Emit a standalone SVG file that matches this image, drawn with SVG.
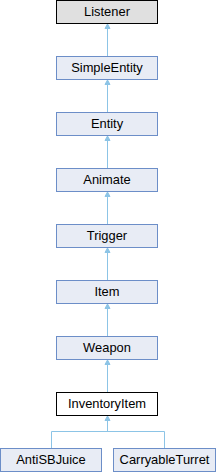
<svg xmlns="http://www.w3.org/2000/svg" width="216" height="472" viewBox="0 0 216 472">
<style>
.n rect{fill:#e8ecf5;stroke:#6c8ec8;stroke-width:1}
.root rect{fill:#e0e0e0;stroke:#000}
.cur rect{fill:#fff;stroke:#000}
text{font-family:"Liberation Sans",Arial,sans-serif;font-size:12.9px;fill:#000;text-anchor:middle}
.e path{fill:none;stroke:#8cc4e6;stroke-width:1}
.e polygon{fill:#8cc4e6;stroke:#8cc4e6;stroke-width:1}
</style>
<rect width="216" height="472" fill="#fff"/>
<g class="e" id="edges">
<path d="M107.5,28V56"/><polygon points="107.5,24 105,28.5 110,28.5"/>
<path d="M107.5,84V112"/><polygon points="107.5,80 105,84.5 110,84.5"/>
<path d="M107.5,140V168"/><polygon points="107.5,136 105,140.5 110,140.5"/>
<path d="M107.5,196V224"/><polygon points="107.5,192 105,196.5 110,196.5"/>
<path d="M107.5,252V280"/><polygon points="107.5,248 105,252.5 110,252.5"/>
<path d="M107.5,308V336"/><polygon points="107.5,304 105,308.5 110,308.5"/>
<path d="M107.5,364V392"/><polygon points="107.5,360 105,364.5 110,364.5"/>
<path d="M107.5,420V432M51.5,448V431.5H164.5V448"/><polygon points="107.5,416 105,420.5 110,420.5"/>
</g>
<g class="n root" id="Listener"><rect x="56.5" y="0.5" width="101" height="23"/><text x="107" y="16">Listener</text></g>
<g class="n" id="SimpleEntity"><rect x="56.5" y="56.5" width="101" height="23"/><text x="107" y="72">SimpleEntity</text></g>
<g class="n" id="Entity"><rect x="56.5" y="112.5" width="101" height="23"/><text x="107" y="128">Entity</text></g>
<g class="n" id="Animate"><rect x="56.5" y="168.5" width="101" height="23"/><text x="107" y="184">Animate</text></g>
<g class="n" id="Trigger"><rect x="56.5" y="224.5" width="101" height="23"/><text x="107" y="240">Trigger</text></g>
<g class="n" id="Item"><rect x="56.5" y="280.5" width="101" height="23"/><text x="107" y="296">Item</text></g>
<g class="n" id="Weapon"><rect x="56.5" y="336.5" width="101" height="23"/><text x="107" y="352">Weapon</text></g>
<g class="n cur" id="InventoryItem"><rect x="56.5" y="392.5" width="101" height="23"/><text x="107" y="408">InventoryItem</text></g>
<g class="n" id="AntiSBJuice"><rect x="0.5" y="448.5" width="101" height="23"/><text x="51" y="464">AntiSBJuice</text></g>
<g class="n" id="CarryableTurret"><rect x="113.5" y="448.5" width="102" height="23"/><text x="164.5" y="464">CarryableTurret</text></g>
</svg>
